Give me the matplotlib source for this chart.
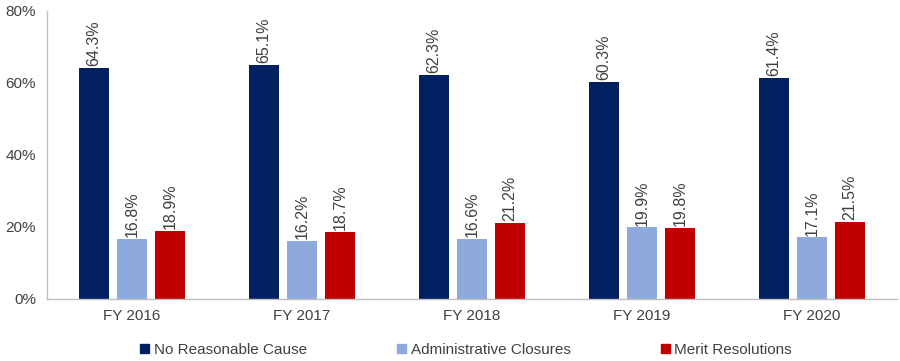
import matplotlib
matplotlib.use("Agg")
import matplotlib.pyplot as plt
import numpy as np
from matplotlib.patches import Patch

plt.rcParams['font.family'] = ['Liberation Sans', 'DejaVu Sans']

categories = ["FY 2016", "FY 2017", "FY 2018", "FY 2019", "FY 2020"]
series_names = ["No Reasonable Cause", "Administrative Closures", "Merit Resolutions"]
no_reasonable = [64.3, 65.1, 62.3, 60.3, 61.4]
admin_closures = [16.8, 16.2, 16.6, 19.9, 17.1]
merit = [18.9, 18.7, 21.2, 19.8, 21.5]
colors = ["#002060", "#8EA9DB", "#C00000"]

fig = plt.figure(figsize=(9, 3.61), dpi=100)
ax = fig.add_axes([47/900, 1-299/361, 850/900, 288/361])

x = np.arange(len(categories))
width = 0.176
offsets = [-0.2235, 0, 0.2235]
for vals, off, col in zip([no_reasonable, admin_closures, merit], offsets, colors):
    bars = ax.bar(x + off, vals, width, color=col, zorder=2)
    for b, v in zip(bars, vals):
        ax.text(b.get_x() + b.get_width()/2, v + 0.5, f"{v:.1f}%", rotation=90,
                ha='center', va='bottom', fontsize=11.5, color='#404040')

ax.set_xlim(-0.5, len(categories) - 0.5)
ax.set_ylim(0, 80)
ax.set_yticks([0, 20, 40, 60, 80])
ax.set_yticklabels([f"{t}%" for t in [0, 20, 40, 60, 80]])
ax.set_xticks(x)
ax.set_xticklabels(categories)
ax.tick_params(axis='both', length=0, labelsize=11, labelcolor='#404040')
ax.tick_params(axis='y', pad=8)
ax.tick_params(axis='x', pad=7)
for s in ['top', 'right']:
    ax.spines[s].set_visible(False)
for s in ['left', 'bottom']:
    ax.spines[s].set_color('#BFBFBF')
    ax.spines[s].set_linewidth(1)

handles = [Patch(color=c, label=n) for c, n in zip(colors, series_names)]
fig.legend(handles=handles, loc='center', bbox_to_anchor=(466/900, 1-350/361), ncol=3,
           frameon=False, fontsize=11, handlelength=0.6, handleheight=0.6,
           handletextpad=0.3, columnspacing=5.9, labelcolor='#404040')

fig.savefig("out.png", dpi=100)
